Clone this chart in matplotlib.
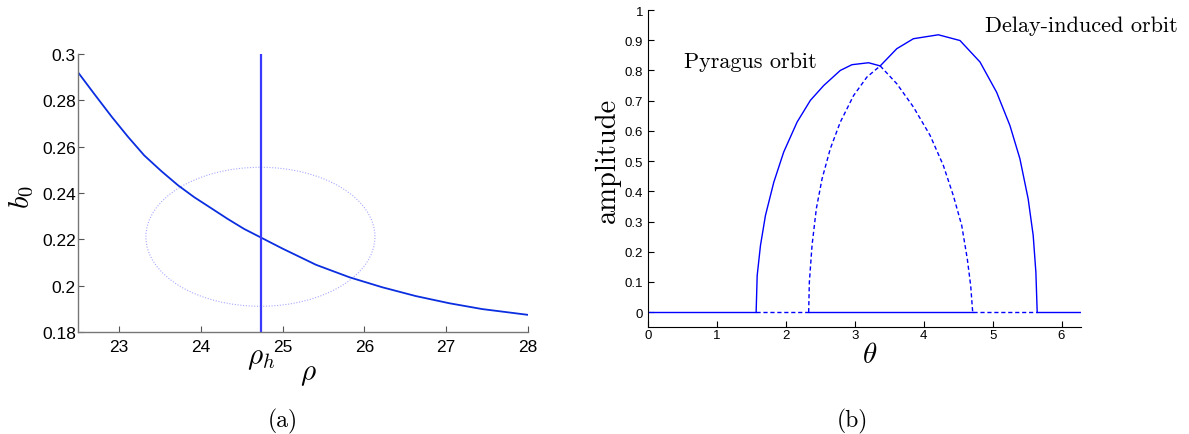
import matplotlib
matplotlib.use('Agg')
import matplotlib.pyplot as plt
from matplotlib.patches import Ellipse
from matplotlib.ticker import FormatStrFormatter
import numpy as np

plt.rcParams['font.family'] = ['Liberation Sans', 'DejaVu Sans']
plt.rcParams['mathtext.fontset'] = 'cm'

# panel (a): b0 against rho
rho = [22.5, 22.70, 22.91, 23.11, 23.31, 23.52, 23.72, 23.92, 24.13, 24.33,
       24.53, 24.74, 25.0, 25.41, 25.82, 26.22, 26.63, 27.04, 27.44, 28.0]
b0 = [0.2921, 0.2827, 0.2730, 0.2643, 0.2562, 0.2494, 0.2434, 0.2382, 0.2334, 0.2288,
      0.2245, 0.2207, 0.2160, 0.2090, 0.2036, 0.1993, 0.1955, 0.1924, 0.1899, 0.1874]
rho_h = 24.74
ell_center = (24.73, 0.2211)
ell_width = 2.80
ell_height = 0.060

# panel (b): amplitude against theta
pyr_solid_theta = [1.569, 1.584, 1.632, 1.704, 1.825, 1.969, 2.163, 2.356, 2.549,
                   2.790, 2.959, 3.200, 3.369]
pyr_solid_amp = [0.0, 0.121, 0.221, 0.320, 0.430, 0.530, 0.629, 0.701, 0.750,
                 0.800, 0.819, 0.8255, 0.815]
pyr_dash_theta = [3.369, 3.610, 3.851, 4.093, 4.286, 4.430, 4.552, 4.633, 4.682, 4.711]
pyr_dash_amp = [0.815, 0.756, 0.679, 0.585, 0.485, 0.386, 0.287, 0.176, 0.088, 0.0]

del_dash_theta = [2.331, 2.341, 2.380, 2.442, 2.525, 2.645, 2.790, 2.983, 3.176, 3.369]
del_dash_amp = [0.0, 0.099, 0.221, 0.342, 0.441, 0.541, 0.629, 0.717, 0.778, 0.815]
del_solid_theta = [3.369, 3.610, 3.851, 4.213, 4.527, 4.817, 5.058, 5.251, 5.396,
                   5.516, 5.589, 5.628, 5.647]
del_solid_amp = [0.815, 0.872, 0.905, 0.918, 0.899, 0.828, 0.728, 0.618, 0.508,
                 0.375, 0.254, 0.132, 0.0]

# zero branch: (start, end, stable?)
zero_segments = [(0.0, 1.569, True), (1.569, 2.331, False), (2.331, 4.711, True),
                 (4.711, 5.647, False), (5.647, 2 * np.pi, True)]

fig = plt.figure(figsize=(11.89, 4.35), dpi=100)

# ---------- (a) ----------
axa = fig.add_axes([0.0656, 0.2345, 0.3784, 0.6391])
axa.plot(rho, b0, color='#0a2ee0', lw=1.3)
axa.axvline(rho_h, color='#3a3aff', lw=1.6)
axa.add_patch(Ellipse(ell_center, ell_width, ell_height, fill=False,
                      ls=(0, (1, 1.5)), lw=0.8, ec='#a8a8ff'))
axa.set_xlim(22.5, 28)
axa.set_ylim(0.18, 0.3)
axa.set_xticks([23, 24, 25, 26, 27, 28])
axa.set_yticks([0.18, 0.2, 0.22, 0.24, 0.26, 0.28, 0.3])
axa.yaxis.set_major_formatter(FormatStrFormatter('%g'))
axa.tick_params(direction='in', length=4, width=0.8, labelsize=12.5, colors='#555555',
                labelcolor='black')
axa.tick_params(axis='x', pad=5)
axa.tick_params(axis='y', pad=1.5)
for s in ['top', 'right']:
    axa.spines[s].set_visible(False)
for s in ['left', 'bottom']:
    axa.spines[s].set_color('#777777')
    axa.spines[s].set_linewidth(1.0)
axa.set_ylabel(r'$b_0$', fontsize=21, va='center')
axa.yaxis.set_label_coords(-0.124, 0.49)
axa.set_xlabel(r'$\rho$', fontsize=21, va='center')
axa.xaxis.set_label_coords(0.511, -0.147)
axa.text(rho_h, -0.09, r'$\rho_h$', transform=axa.get_xaxis_transform(),
         fontsize=21, ha='center', va='center')

# ---------- (b) ----------
axb = fig.add_axes([0.545, 0.2453, 0.3642, 0.7294])
for t0, t1, stable in zero_segments:
    axb.plot([t0, t1], [0, 0], color='#0000ff', lw=1.0,
             ls='-' if stable else (0, (3, 2)))
axb.plot(pyr_solid_theta, pyr_solid_amp, color='#0000ff', lw=1.0)
axb.plot(pyr_dash_theta, pyr_dash_amp, color='#0000ff', lw=1.0, ls=(0, (3, 2)))
axb.plot(del_dash_theta, del_dash_amp, color='#0000ff', lw=1.0, ls=(0, (3, 2)))
axb.plot(del_solid_theta, del_solid_amp, color='#0000ff', lw=1.0)
axb.set_xlim(0, 2 * np.pi)
axb.set_ylim(-0.05, 1)
axb.set_xticks(range(7))
axb.set_yticks(np.arange(11) / 10)
axb.yaxis.set_major_formatter(FormatStrFormatter('%g'))
axb.tick_params(direction='in', length=4, width=0.8, labelsize=9.5)
axb.tick_params(axis='x', pad=1.5)
axb.tick_params(axis='y', pad=3.5)
for s in ['top', 'right']:
    axb.spines[s].set_visible(False)
axb.set_ylabel('amplitude', fontsize=20.5, family='cmr10', va='center')
axb.yaxis.set_label_coords(-0.092, 0.53)
axb.set_xlabel(r'$\theta$', fontsize=21, va='center')
axb.xaxis.set_label_coords(0.513, -0.084)
axb.text(0.517, 0.832, 'Pyragus orbit', family='cmr10', fontsize=16,
         ha='left', va='center')
axb.text(4.889, 0.948, 'Delay-induced orbit', family='cmr10', fontsize=16,
         ha='left', va='center')

fig.text(0.238, 0.032, '(a)', family='cmr10', fontsize=17, ha='center', va='center')
fig.text(0.717, 0.032, '(b)', family='cmr10', fontsize=17, ha='center', va='center')

fig.savefig('out.png', dpi=100)
